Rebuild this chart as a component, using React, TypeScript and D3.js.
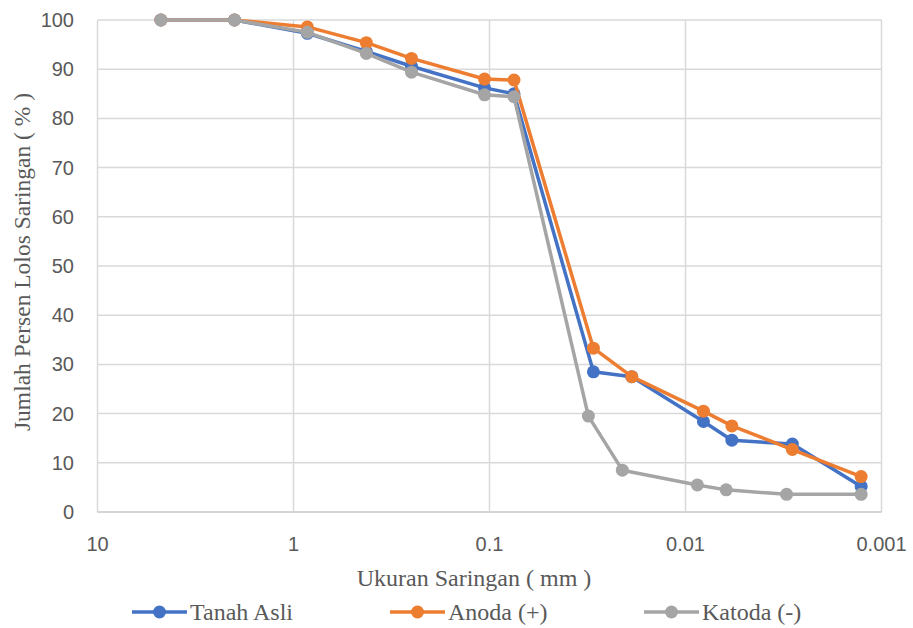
import React from 'react';
import * as d3 from 'd3';

// sieve / hydrometer sizes (mm) and percent passing
const sizesMain = [4.75, 2.0, 0.85, 0.425, 0.25, 0.106, 0.075, 0.0295, 0.0188, 0.0081, 0.0058, 0.00285, 0.00127];
const sizesKatoda = [4.75, 2.0, 0.85, 0.425, 0.25, 0.106, 0.075, 0.0313, 0.021, 0.0087, 0.0062, 0.00305, 0.00127];

const tanahAsli = [100, 100, 97.3, 93.6, 90.6, 86.2, 85.0, 28.5, 27.5, 18.4, 14.6, 13.8, 5.2];
const anoda = [100, 100, 98.6, 95.4, 92.2, 88.0, 87.8, 33.3, 27.5, 20.5, 17.5, 12.7, 7.2];
const katoda = [100, 100, 97.5, 93.2, 89.4, 84.8, 84.4, 19.5, 8.5, 5.5, 4.5, 3.6, 3.6];

const xTicks = [10, 1, 0.1, 0.01, 0.001];
const yTicks = [0, 10, 20, 30, 40, 50, 60, 70, 80, 90, 100];

const seriesNames = ['Tanah Asli', 'Anoda (+)', 'Katoda (-)'];
const colors = ['#4472C4', '#ED7D31', '#A5A5A5'];

export default function App() {
    const width = 913, height = 628;
    const left = 97.5, right = 881.5, top = 20, bottom = 512;

    const x = d3.scaleLog().domain([10, 0.001]).range([left, right]);
    const y = d3.scaleLinear().domain([0, 100]).range([bottom, top]);

    const series = [
        { name: seriesNames[0], sizes: sizesMain, vals: tanahAsli, color: colors[0] },
        { name: seriesNames[1], sizes: sizesMain, vals: anoda, color: colors[1] },
        { name: seriesNames[2], sizes: sizesKatoda, vals: katoda, color: colors[2] },
    ];

    const line = d3.line<[number, number]>()
        .x(d => x(d[0]))
        .y(d => y(d[1]));

    const tickFont = '"Liberation Sans", Arial, sans-serif';
    const titleFont = '"Liberation Serif", "Times New Roman", serif';

    // legend layout
    const legendX = [132, 390, 644];
    const legendY = 612;

    return (
        <svg width={width} height={height} style={{ position: 'absolute', left: 0, top: 0, background: '#fff' }}>
            {/* grid */}
            {yTicks.map(t => (
                <line key={'gy' + t} x1={left} x2={right} y1={y(t)} y2={y(t)} stroke="#d9d9d9" strokeWidth={1.5} />
            ))}
            {xTicks.map(t => (
                <line key={'gx' + t} x1={x(t)} x2={x(t)} y1={top} y2={bottom} stroke="#d9d9d9" strokeWidth={1.5} />
            ))}
            <line x1={left} x2={right} y1={bottom} y2={bottom} stroke="#d0d0d0" strokeWidth={1.5} />

            {/* tick labels */}
            {yTicks.map(t => (
                <text key={'ty' + t} x={74} y={y(t)} dy="0.35em" textAnchor="end"
                    fontFamily={tickFont} fontSize={20} fill="#595959">{t}</text>
            ))}
            {xTicks.map(t => (
                <text key={'tx' + t} x={x(t)} y={544} dy="0.35em" textAnchor="middle"
                    fontFamily={tickFont} fontSize={20} fill="#595959">{String(t)}</text>
            ))}

            {/* axis titles */}
            <text x={474} y={578} dy="0.35em" textAnchor="middle"
                fontFamily={titleFont} fontSize={24} fill="#595959">Ukuran Saringan ( mm )</text>
            <text transform={`translate(22,262) rotate(-90)`} dy="0.35em" textAnchor="middle"
                fontFamily={titleFont} fontSize={23.5} fill="#595959">Jumlah Persen Lolos Saringan ( % )</text>

            {/* series */}
            {series.map(s => {
                const pts = s.sizes.map((sz, i) => [sz, s.vals[i]] as [number, number]);
                return (
                    <g key={s.name}>
                        <path d={line(pts) || ''} fill="none" stroke={s.color} strokeWidth={3.5} strokeLinejoin="round" />
                        {pts.map((p, i) => (
                            <circle key={i} cx={x(p[0])} cy={y(p[1])} r={6.5} fill={s.color} />
                        ))}
                    </g>
                );
            })}

            {/* legend */}
            {series.map((s, i) => (
                <g key={'lg' + s.name} transform={`translate(${legendX[i]},${legendY})`}>
                    <line x1={0} x2={55} y1={0} y2={0} stroke={s.color} strokeWidth={3.5} />
                    <circle cx={27.5} cy={0} r={6.5} fill={s.color} />
                    <text x={58} y={0} dy="0.35em" fontFamily={titleFont} fontSize={24} fill="#595959">{s.name}</text>
                </g>
            ))}
        </svg>
    );
}
